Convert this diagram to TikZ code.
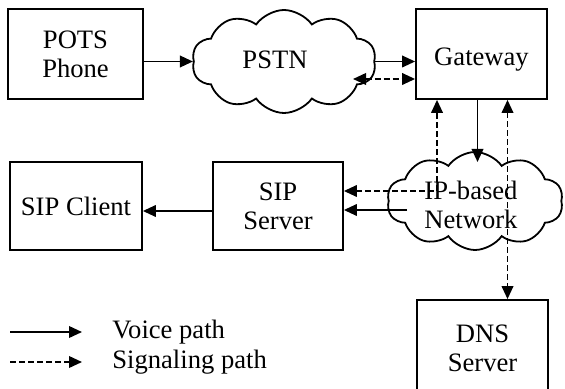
\documentclass[tikz,border=0pt]{standalone}
\usepackage{fontspec}
\setmainfont{Liberation Serif}
\usetikzlibrary{shapes.symbols,arrows.meta,calc}
\begin{document}
\begin{tikzpicture}[x=0.5pt,y=-0.5pt,
  every node/.style={font=\fontsize{13.3pt}{14.5pt}\selectfont, inner sep=0pt},
  box/.style={draw, line width=0.9pt, align=center},
  netcloud/.style={draw, cloud, cloud puffs=10, cloud puff arc=110, line width=0.9pt, aspect=1.8},
  arr/.tip={Triangle[length=6.5pt,width=5.8pt]},
  voice/.style={line width=0.9pt, -arr},
  sig/.style={line width=0.9pt, dash pattern=on 3pt off 1.5pt, -arr},
  sigboth/.style={sig, arr-arr}]
\useasboundingbox (0,0) rectangle (565,389);
\clip (0,0) rectangle (565,389);

% boxes
\node[box, minimum width=67.5pt, minimum height=45pt] (pots) at (75.5,54) {POTS\\Phone};
\node[box, minimum width=65.5pt, minimum height=45pt, text height=14pt] (gw) at (481.5,54) {Gateway};
\node[box, minimum width=66pt, minimum height=44pt] (client) at (76,206) {SIP Client};
\node[box, minimum width=65pt, minimum height=44pt] (sipsrv) at (278,206) {SIP\\Server};
\node[box, minimum width=65.5pt, minimum height=48pt] (dns) at (482.5,348) {DNS\\Server};

% clouds
\node[netcloud, minimum width=92pt, minimum height=51.5pt] (pstn) at (284,61.5) {};
\node (pstnlbl) at (275,60) {PSTN};
\node[netcloud, minimum width=88pt, minimum height=49pt] (ip) at (475,201) {};
\node[align=center] (iplbl) at (471,205) {IP-based\\Network};

% helper points
\coordinate (pstnbay) at (353,79);
\coordinate (iptop) at (477.5,162);
\coordinate (ipbay) at (407,210);
\coordinate (siglink) at (437,191);

% connectors
\draw[voice] (pots.east |- pstn.west) -- (pstn.west);
\draw[voice] (pstn.east) -- (pstn.east -| gw.west);
\draw[sigboth] (pstnbay) -- (pstnbay -| gw.west);
\draw[voice] (iptop |- gw.south) -- (iptop);
\draw[sigboth] (siglink -| sipsrv.east) -- (siglink) -- (siglink |- gw.south);
\draw[sigboth] ([xshift=13pt]gw.south) -- ([xshift=13pt]gw.south |- dns.north);
\draw[voice] (ipbay) -- (ipbay -| sipsrv.east);
\draw[voice] ([yshift=-2.5pt]sipsrv.west) -- ([yshift=-2.5pt]client.east);

% legend
\node[anchor=west] (vleg) at (112,332) {Voice path};
\node[anchor=west] (sleg) at (112,362) {Signaling path};
\coordinate (v0) at (10,332);
\coordinate (s0) at (10,362);
\draw[voice] (v0) -- ([xshift=-15pt]vleg.west);
\draw[sig] (s0) -- ([xshift=-15pt]sleg.west);
\end{tikzpicture}
\end{document}
